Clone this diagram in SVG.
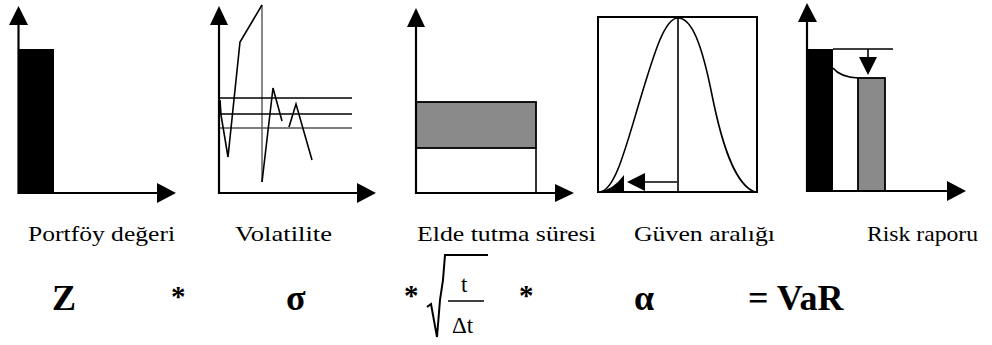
<svg xmlns="http://www.w3.org/2000/svg" width="992" height="345" viewBox="0 0 992 345">
<style>
.ax{stroke:#000;stroke-width:2.2;fill:none}
.ln{stroke:#000;stroke-width:1.6;fill:none}
.gl{stroke:#555;stroke-width:1.4;fill:none}
.ah{fill:#000}
.shade{fill:#8a8a8a;stroke:#000;stroke-width:1.8}
text{font-family:'Liberation Serif','DejaVu Serif','Times New Roman',serif;fill:#000}
.lbl{font-size:22px}
.fm{font-size:36px;font-weight:bold}
.st{font-size:29px;font-weight:bold}
.fr{font-size:23px}
</style>
<rect width="992" height="345" fill="#fff"/>
<g id="portfoy">
  <rect x="18" y="49" width="36" height="144" fill="#000"/>
  <line class="ax" x1="18.5" y1="194" x2="18.5" y2="24"/>
  <polygon class="ah" points="18.5,6 9,25 28,25"/>
  <line class="ax" x1="18" y1="193" x2="158" y2="193"/>
  <polygon class="ah" points="176,193 157,183 157,203"/>
</g>
<g id="volatilite">
  <line class="gl" x1="262" y1="5" x2="262" y2="182"/>
  <line class="ln" x1="219" y1="98" x2="352" y2="98"/>
  <line class="ln" x1="219" y1="114" x2="352" y2="114"/>
  <line class="gl" x1="219" y1="128" x2="352" y2="128"/>
  <polyline class="ln" points="220,100 221,115 228,157 240,42 262,5"/>
  <polyline class="ln" points="262,182 273,88 282,121"/>
  <polyline class="ln" points="289,127 296,104 312,160"/>
  <line class="ax" x1="219" y1="194" x2="219" y2="24"/>
  <polygon class="ah" points="219,6 210,25 228,25"/>
  <line class="ax" x1="219" y1="193" x2="358" y2="193"/>
  <polygon class="ah" points="376,193 357,183 357,203"/>
</g>
<g id="elde">
  <rect class="shade" x="416" y="102" width="120" height="46"/>
  <line class="ln" x1="536" y1="148" x2="536" y2="193"/>
  <line class="ax" x1="416" y1="194" x2="416" y2="26"/>
  <polygon class="ah" points="416,8 407,27 425,27"/>
  <line class="ax" x1="416" y1="193" x2="556" y2="193"/>
  <polygon class="ah" points="574,193 555,184 555,202"/>
</g>
<g id="guven">
  <rect x="598" y="17" width="159" height="175" fill="none" stroke="#000" stroke-width="2"/>
  <line class="ln" x1="678" y1="17" x2="678" y2="192"/>
  <path class="ln" stroke-width="1.8" d="M600,192 C615,190 625,150 640,100 C655,50 665,18 678,18 C692,18 702,45 712,95 C722,145 735,185 755,192"/>
  <path d="M598,192 Q613,190 624,175 L624,192 Z" fill="#000"/>
  <line class="ln" x1="644" y1="182" x2="677" y2="182"/>
  <polygon class="ah" points="627,182 645,173 645,191"/>
</g>
<g id="risk">
  <rect x="807" y="49" width="26" height="142" fill="#000"/>
  <line class="ln" x1="833" y1="49" x2="893" y2="49"/>
  <line class="ln" x1="868" y1="49" x2="868" y2="58"/>
  <polygon class="ah" points="859,57 877,57 868,75"/>
  <path class="ln" d="M833,68 Q840,77 858,78"/>
  <rect class="shade" x="858" y="78" width="27" height="113"/>
  <line class="ax" x1="807" y1="192" x2="807" y2="21"/>
  <polygon class="ah" points="807,3 798,22 817,22"/>
  <line class="ax" x1="807" y1="191" x2="948" y2="191"/>
  <polygon class="ah" points="966,191 947,181 947,201"/>
</g>
<g id="labels">
  <text class="lbl" x="28" y="241" textLength="147" lengthAdjust="spacingAndGlyphs">Portföy değeri</text>
  <text class="lbl" x="235" y="241" textLength="97" lengthAdjust="spacingAndGlyphs">Volatilite</text>
  <text class="lbl" x="417" y="241" textLength="179" lengthAdjust="spacingAndGlyphs">Elde tutma süresi</text>
  <text class="lbl" x="634" y="241" textLength="141" lengthAdjust="spacingAndGlyphs">Güven aralığı</text>
  <text class="lbl" x="867" y="241" textLength="111" lengthAdjust="spacingAndGlyphs">Risk raporu</text>
</g>
<g id="formula">
  <text class="fm" x="52" y="310">Z</text>
  <text class="st" x="171" y="306">*</text>
  <text class="fm" x="286" y="310">σ</text>
  <text class="st" x="404" y="305">*</text>
  <path d="M427,307 L431,304 L437,337 L440,300 L443,280 L445,255 L488,255" fill="none" stroke="#000" stroke-width="2"/>
  <text class="fr" x="461" y="292">t</text>
  <line x1="448" y1="301" x2="484" y2="301" stroke="#000" stroke-width="1.6"/>
  <text class="fr" x="452" y="333">Δt</text>
  <text class="st" x="519" y="305">*</text>
  <text class="fm" x="634" y="310">α</text>
  <text class="fm" x="748" y="310">= VaR</text>
</g>
</svg>
